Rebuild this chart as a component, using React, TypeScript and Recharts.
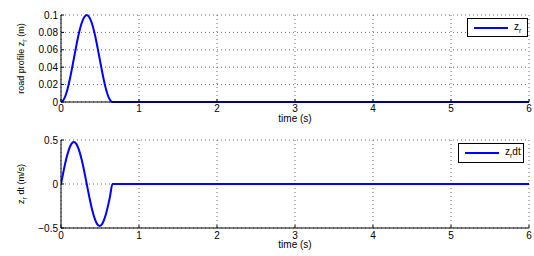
import React from 'react';
import { LineChart, Line, XAxis, YAxis, CartesianGrid, Legend } from 'recharts';

// time samples (s)
const timeS = [0, 0.033, 0.066, 0.099, 0.132, 0.165, 0.198, 0.231, 0.264, 0.297, 0.33, 0.363, 0.396, 0.429, 0.462, 0.495, 0.528, 0.561, 0.594, 0.627, 0.66, 6];
// road profile z_r (m)
const roadZ = [0, 0.0025, 0.0095, 0.0205, 0.0345, 0.05, 0.0655, 0.0795, 0.0905, 0.0975, 0.1, 0.0975, 0.0905, 0.0795, 0.0655, 0.05, 0.0345, 0.0205, 0.0095, 0.0025, 0, 0];
// road profile velocity z_r dt (m/s)
const roadV = [0, 0.147, 0.28, 0.385, 0.453, 0.476, 0.453, 0.385, 0.28, 0.147, 0, -0.147, -0.28, -0.385, -0.453, -0.476, -0.453, -0.385, -0.28, -0.147, 0, 0];

const xTicks = [0, 1, 2, 3, 4, 5, 6];
const topYTicks = [0, 0.02, 0.04, 0.06, 0.08, 0.1];
const botYTicks = [-0.5, 0, 0.5];
const botYLabels = ['\u22120.5', '0', '0.5'];

const topData = timeS.map((t, i) => ({ t, z: roadZ[i] }));
const botData = timeS.map((t, i) => ({ t, v: roadV[i] }));

const FONT = '"Liberation Sans", Arial, Helvetica, sans-serif';
const BLUE = '#0000ff';
const TICK = 3;

const LegendBox = ({ w, h, label }: { w: number; h: number; label: React.ReactNode }) => (
  <div
    style={{
      width: w,
      height: h,
      boxSizing: 'border-box',
      border: '1px solid #000',
      background: '#fff',
      display: 'flex',
      alignItems: 'center',
      fontFamily: FONT,
      fontSize: 10,
      color: '#000',
      lineHeight: 1,
    }}
  >
    <svg width={40} height={6} style={{ marginLeft: 6, display: 'block' }}>
      <line x1={0} y1={3} x2={34} y2={3} stroke={BLUE} strokeWidth={2} />
    </svg>
    <span>{label}</span>
  </div>
);

const BottomTick = (props: any) => {
  const { x, y, payload, labelDy } = props;
  return (
    <g>
      <line x1={x} y1={y} x2={x} y2={y - TICK} stroke="#000" />
      <text x={x} y={y + labelDy} textAnchor="middle" fontSize={10} fontFamily={FONT} fill="#000">
        {String(payload.value)}
      </text>
    </g>
  );
};

const LeftTick = (props: any) => {
  const { x, y, payload, fmt } = props;
  return (
    <g>
      <line x1={x} y1={y} x2={x + TICK} y2={y} stroke="#000" />
      <text x={x - 3} y={y + 3.5} textAnchor="end" fontSize={10} fontFamily={FONT} fill="#000">
        {fmt(payload.value)}
      </text>
    </g>
  );
};

const TopTick = (props: any) => {
  const { x, y } = props;
  return <line x1={x} y1={y} x2={x} y2={y + TICK} stroke="#000" />;
};

const RightTick = (props: any) => {
  const { x, y } = props;
  return <line x1={x} y1={y} x2={x - TICK} y2={y} stroke="#000" />;
};

type PanelProps = {
  data: any[];
  dataKey: string;
  yTicks: number[];
  yDomain: [number, number];
  yFmt: (v: number) => string;
  title: string;
  titleDy: number;
  yLabel: React.ReactNode;
  marginTop: number;
  xAxisH: number;
  xLabelDy: number;
  tickLabelDy: number;
  legend: React.ReactNode;
  legendPos: { top: number; left: number };
};

const Panel = (p: PanelProps) => (
  <LineChart
    width={534}
    height={128}
    data={p.data}
    margin={{ top: p.marginTop, right: 5, bottom: 0, left: 0 }}
  >
    <CartesianGrid stroke="#666" strokeDasharray="1 3" strokeWidth={1} />
    <XAxis
      dataKey="t"
      type="number"
      domain={[0, 6]}
      ticks={xTicks}
      interval={0}
      allowDataOverflow
      height={p.xAxisH}
      tickSize={0}
      tickMargin={0}
      tickLine={false}
      tick={(tp: any) => <BottomTick {...tp} labelDy={p.tickLabelDy} />}
      axisLine={{ stroke: '#000' }}
      label={{
        content: (lp: any) => {
          const vb = lp.viewBox || {};
          return (
            <text x={vb.x + vb.width / 2} y={vb.y + p.xLabelDy} textAnchor="middle" fontSize={10} fontFamily={FONT} fill="#000">
              time (s)
            </text>
          );
        },
      }}
    />
    <XAxis
      xAxisId="top"
      orientation="top"
      dataKey="t"
      type="number"
      domain={[0, 6]}
      ticks={xTicks}
      interval={0}
      height={0}
      tickSize={0}
      tickMargin={0}
      tickLine={false}
      tick={(tp: any) => <TopTick {...tp} />}
      axisLine={{ stroke: '#000' }}
      label={{
        content: (lp: any) => {
          const vb = lp.viewBox || {};
          return (
            <text x={vb.x + vb.width / 2} y={vb.y - p.titleDy} textAnchor="middle" fontSize={10} fontFamily={FONT} fill="#000">
              {p.title}
            </text>
          );
        },
      }}
    />
    <YAxis
      type="number"
      domain={p.yDomain}
      ticks={p.yTicks}
      interval={0}
      width={61}
      tickSize={0}
      tickMargin={0}
      tickLine={false}
      tick={(tp: any) => <LeftTick {...tp} fmt={p.yFmt} />}
      axisLine={{ stroke: '#000' }}
      label={{
        content: (lp: any) => {
          const vb = lp.viewBox || {};
          const cx = 24;
          const cy = vb.y + vb.height / 2;
          return (
            <text x={cx} y={cy} transform={`rotate(-90 ${cx} ${cy})`} textAnchor="middle" fontSize={9} fontFamily={FONT} fill="#000">
              {p.yLabel}
            </text>
          );
        },
      }}
    />
    <YAxis
      yAxisId="right"
      orientation="right"
      type="number"
      domain={p.yDomain}
      ticks={p.yTicks}
      interval={0}
      width={0}
      tickSize={0}
      tickMargin={0}
      tickLine={false}
      tick={(tp: any) => <RightTick {...tp} />}
      axisLine={{ stroke: '#000' }}
    />
    <Line
      type="monotone"
      dataKey={p.dataKey}
      stroke={BLUE}
      strokeWidth={2}
      dot={false}
      activeDot={false}
      isAnimationActive={false}
    />
    <Legend
      layout="vertical"
      align="center"
      verticalAlign="middle"
      wrapperStyle={{ top: p.legendPos.top, left: p.legendPos.left, width: 'auto' }}
      content={() => p.legend}
    />
  </LineChart>
);

export default function App() {
  return (
    <div style={{ position: 'absolute', left: 0, top: 0, width: 534, height: 256, background: '#fff' }}>
      <div style={{ position: 'absolute', left: 0, top: 0 }}>
        <Panel
          data={topData}
          dataKey="z"
          yTicks={topYTicks}
          yDomain={[0, 0.1]}
          yFmt={(v) => String(v)}
          title="road profile"
          titleDy={6}
          yLabel={
            <>
              road profile z<tspan dy={3} fontSize={7}>r</tspan>
              <tspan dy={-3}> (m)</tspan>
            </>
          }
          marginTop={15}
          xAxisH={26}
          xLabelDy={20}
          tickLabelDy={9.5}
          legend={
            <LegendBox
              w={61}
              h={19}
              label={
                <>
                  z<sub style={{ fontSize: 7, verticalAlign: -3 }}>r</sub>
                </>
              }
            />
          }
          legendPos={{ top: 18, left: 467 }}
        />
      </div>
      <div style={{ position: 'absolute', left: 0, top: 128 }}>
        <Panel
          data={botData}
          dataKey="v"
          yTicks={botYTicks}
          yDomain={[-0.5, 0.5]}
          yFmt={(v) => botYLabels[botYTicks.indexOf(v)] ?? String(v)}
          title="road profile velocity"
          titleDy={7}
          yLabel={
            <>
              z<tspan dy={3} fontSize={7}>r</tspan>
              <tspan dy={-3}> dt (m/s)</tspan>
            </>
          }
          marginTop={12}
          xAxisH={28}
          xLabelDy={20}
          tickLabelDy={10.5}
          legend={
            <LegendBox
              w={66}
              h={20}
              label={
                <>
                  z<sub style={{ fontSize: 7, verticalAlign: -3 }}>r</sub>dt
                </>
              }
            />
          }
          legendPos={{ top: 15, left: 458 }}
        />
      </div>
    </div>
  );
}
